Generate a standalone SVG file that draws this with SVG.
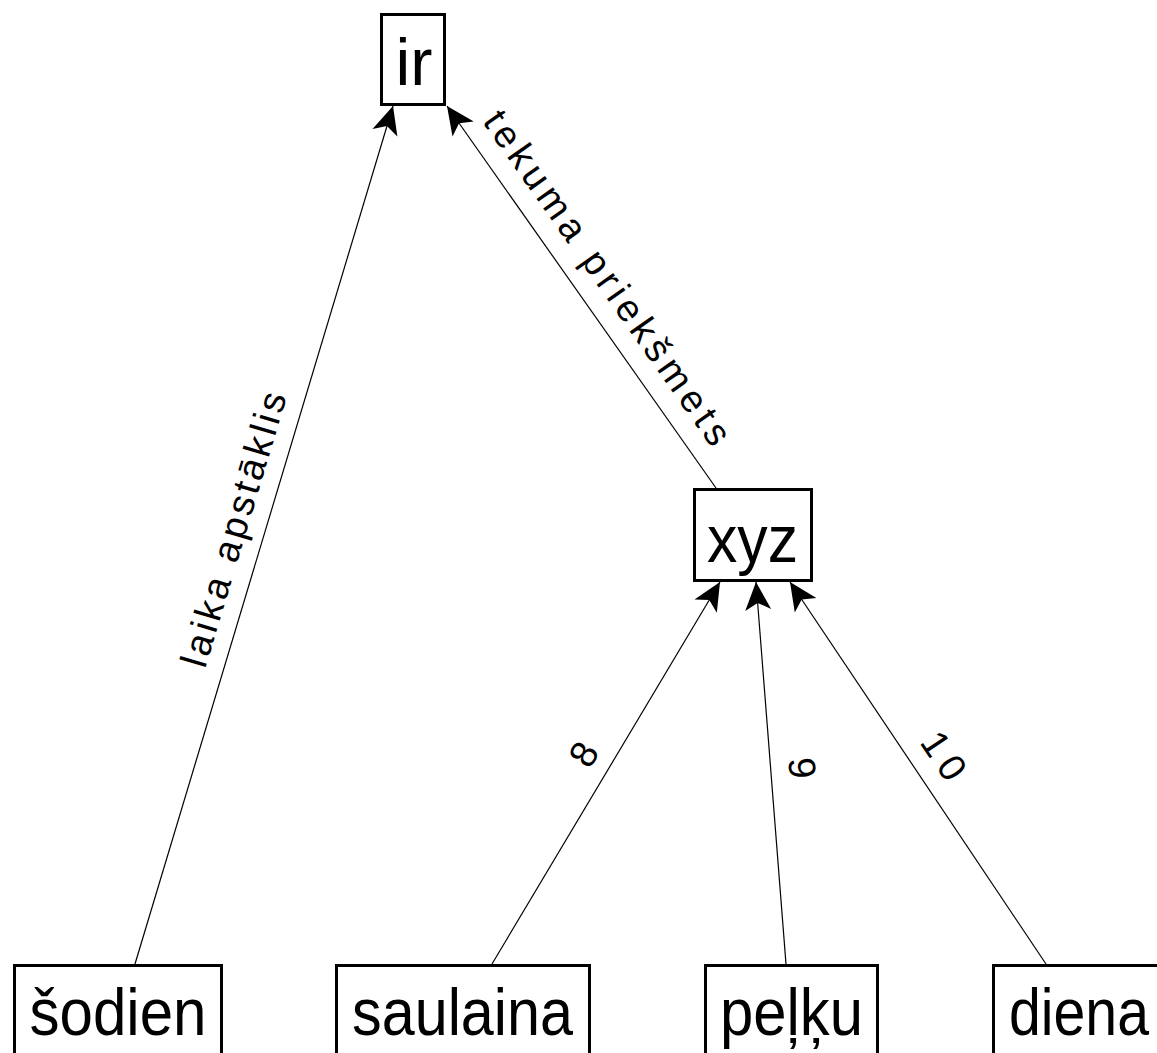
<svg xmlns="http://www.w3.org/2000/svg" width="1157" height="1053" viewBox="0 0 1157 1053">
<style>
.box{fill:#fff;stroke:#000;stroke-width:3}
.nt{font-family:"Liberation Sans",Arial,sans-serif;font-size:66px;fill:#000;text-anchor:middle}
.edge{stroke:#000;stroke-width:1.2;fill:none;marker-end:url(#arr)}
.lt{font-family:"Liberation Sans",Arial,sans-serif;font-size:38px;fill:#000;text-anchor:middle}
</style>
<defs>
<marker id="arr" markerUnits="userSpaceOnUse" markerWidth="40" markerHeight="40" refX="0" refY="0" orient="auto" overflow="visible">
<path d="M0,0 L-28,-13 L-21,0 L-28,13 Z" fill="#000"/>
</marker>
</defs>
<g id="connectors">
<line class="edge" x1="135" y1="964" x2="393" y2="106"/>
<line class="edge" x1="716" y1="488" x2="447" y2="106"/>
<line class="edge" x1="492" y1="964" x2="720" y2="582"/>
<line class="edge" x1="786" y1="964" x2="756" y2="582"/>
<line class="edge" x1="1046" y1="964" x2="790" y2="582"/>
<text class="lt" transform="translate(246,533) rotate(-73.3)" textLength="285">laika apstāklis</text>
<text class="lt" transform="translate(597,285) rotate(54.85)" textLength="400">tekuma priekšmets</text>
<text class="lt" transform="translate(595,761) rotate(-59.1)">8</text>
<text class="lt" transform="translate(789,769) rotate(85.5)">9</text>
<text class="lt" transform="translate(933,763) rotate(56.1)" textLength="50">10</text>
</g>
<g id="node-ir">
<rect class="box" x="381.5" y="14.5" width="63" height="90"/>
<text class="nt" x="414" y="85" textLength="37" lengthAdjust="spacingAndGlyphs">ir</text>
</g>
<g id="node-xyz">
<rect class="box" x="694.5" y="489.5" width="117" height="91"/>
<text class="nt" x="752.5" y="562" textLength="91" lengthAdjust="spacingAndGlyphs">xyz</text>
</g>
<g id="node-sodien">
<rect class="box" x="14.5" y="965.5" width="207" height="110"/>
<text class="nt" x="118" y="1035" textLength="177" lengthAdjust="spacingAndGlyphs">šodien</text>
</g>
<g id="node-saulaina">
<rect class="box" x="336.5" y="965.5" width="253" height="110"/>
<text class="nt" x="462.5" y="1035" textLength="221" lengthAdjust="spacingAndGlyphs">saulaina</text>
</g>
<g id="node-pelku">
<rect class="box" x="705.5" y="965.5" width="172" height="110"/>
<text class="nt" x="791.5" y="1035" textLength="143" lengthAdjust="spacingAndGlyphs">peļķu</text>
</g>
<g id="node-diena">
<rect class="box" x="993.5" y="965.5" width="200" height="110"/>
<text class="nt" x="1079" y="1035" textLength="140" lengthAdjust="spacingAndGlyphs">diena</text>
</g>
</svg>
